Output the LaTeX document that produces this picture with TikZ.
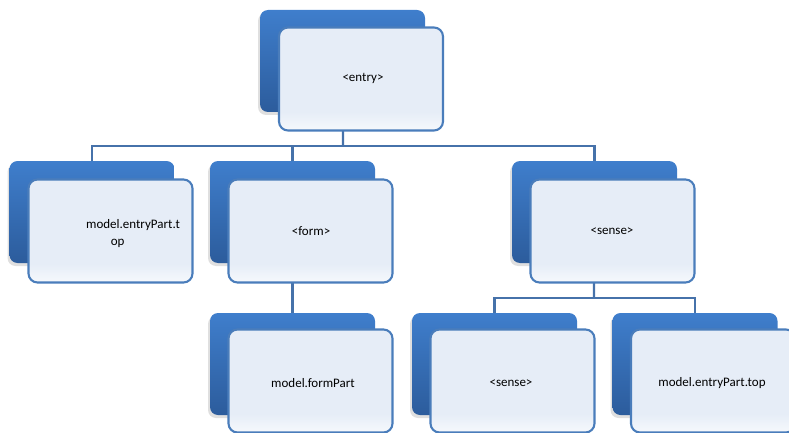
\documentclass[tikz,border=0pt]{standalone}
\usepackage{fontspec}
\setmainfont{Carlito}
\usetikzlibrary{shadows}

\definecolor{backtop}{HTML}{3F7ECC}
\definecolor{backbot}{HTML}{2C5C9C}
\definecolor{edgeblue}{HTML}{4A7DBB}
\definecolor{linkblue}{HTML}{4672AA}
\definecolor{dotblue}{HTML}{E6EDF7}

\pgfdeclareverticalshading{frontfade}{100bp}{color(0bp)=(white); color(20bp)=(white);
 color(34bp)=(dotblue); color(100bp)=(dotblue)}

\begin{document}
\begin{tikzpicture}[x=1pt, y=-1pt, font=\fontsize{13}{17}\selectfont]
\tikzset{backbox/.style={rectangle, rounded corners=8pt, minimum width=165pt, minimum height=102pt,
   top color=backtop, bottom color=backbot, draw=none,
   drop shadow={shadow xshift=-2pt, shadow yshift=-3pt, opacity=.25}},
 frontbox/.style={rectangle, rounded corners=9pt, minimum width=164pt, minimum height=103pt,
   draw=edgeblue, line width=2.1pt, shading=frontfade},
 conn/.style={draw=linkblue, line width=2.3pt}}

\useasboundingbox (0,0) rectangle (789,433);

% Bus coordinates
\coordinate (bus1) at (343,146);
\coordinate (bus2) at (594,298);

% Back boxes
\node[backbox] (entryb) at (342.5,61) {};
\node[backbox] (topb) at (92,212) {};
\node[backbox] (formb) at (292.5,212) {};
\node[backbox] (senseb) at (594.5,212) {};
\node[backbox] (formpartb) at (292.5,364) {};
\node[backbox] (sensetwob) at (494.5,364) {};
\node[backbox] (entrytopb) at (695,364) {};

% Connections
\draw[conn] (entryb.center) -- (bus1);
\draw[conn] (bus1) -| (topb.north);
\draw[conn] (bus1) -| (formb.north);
\draw[conn] (bus1) -| (senseb.north);
\draw[conn] (formb.center) -- (formpartb.north);
\draw[conn] (senseb.center) -- (bus2);
\draw[conn] (bus2) -| (sensetwob.north);
\draw[conn] (bus2) -| (entrytopb.north);

% Front boxes
\node[frontbox] (entry) at (361,79) {};
\node[frontbox] (top) at (110.5,231) {};
\node[frontbox] (form) at (310.5,231) {};
\node[frontbox] (sense) at (612.5,231) {};
\node[frontbox] (formpart) at (310.5,381) {};
\node[frontbox] (sensetwo) at (512.5,381) {};
\node[frontbox] (entrytop) at (713,381) {};

% Labels
\node (entrylbl) at (363,78) {<entry>};
\node[align=left] (toplbl) at (133,234) {model.entryPart.t\\\hspace*{1.9em}op};
\node (formlbl) at (311,231) {<form>};
\node (senselbl) at (612,231) {<sense>};
\node (formpartlbl) at (313,383) {model.formPart};
\node (sensetwolbl) at (511,383) {<sense>};
\node (entrytoplbl) at (712,383) {model.entryPart.top};

\end{tikzpicture}
\end{document}
